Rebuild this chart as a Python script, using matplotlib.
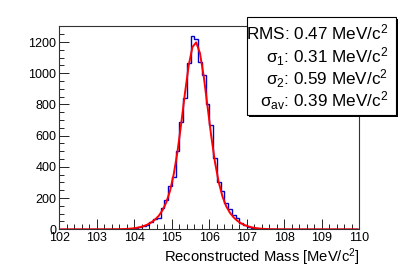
import numpy as np
import matplotlib
matplotlib.use('Agg')
import matplotlib.pyplot as plt
from matplotlib.patches import Rectangle
from matplotlib.ticker import MultipleLocator

plt.rcParams['font.family'] = ['Liberation Sans', 'DejaVu Sans']
plt.rcParams['mathtext.fontset'] = 'custom'
plt.rcParams['mathtext.rm'] = 'Liberation Sans'
plt.rcParams['mathtext.it'] = 'Liberation Sans:italic'
plt.rcParams['mathtext.default'] = 'regular'

# --- Data ---
BIN_LO, BIN_HI, N_BINS = 102.0, 110.0, 80

counts = [
    0, 0, 0, 0, 0, 0, 0, 0, 0, 0, 0, 0, 0, 1, 0,
    1, 2, 2, 4, 5, 9, 14, 22, 29, 45,
    68, 72, 135, 188, 278, 335, 500, 688, 841, 1066,
    1241, 1220, 1072, 986, 804, 670, 456, 306, 248, 167,
    130, 92, 70, 43, 28, 16, 11, 8, 5, 3,
    2, 1, 1, 0,
    0, 0, 0, 0, 0, 0, 0, 0, 0, 0, 0, 0, 0, 0, 0, 0, 0, 0, 0, 0, 0,
]

fit_vals = [
    0, 0, 0, 0, 0, 0, 0, 0, 0, 0, 0, 0.05, 0.09, 0.18, 0.35,
    0.64, 1.1, 2.0, 3.4, 5.6, 8.9, 13.7, 20.7, 30.5, 44,
    62, 86, 121, 171, 244, 351, 495, 676, 871, 1049,
    1168, 1198, 1130, 983, 793, 600, 432, 303, 211, 148,
    106, 76, 54, 38, 26, 18, 11.6, 7.4, 4.6, 2.7,
    1.6, 0.9, 0.5, 0.27,
    0.14, 0.07, 0, 0, 0, 0, 0, 0, 0, 0, 0, 0, 0, 0, 0, 0, 0, 0, 0, 0, 0,
]

legend_lines = [
    'RMS: 0.47 MeV/c$^2$',
    'σ$_1$: 0.31 MeV/c$^2$',
    'σ$_2$: 0.59 MeV/c$^2$',
    'σ$_{av}$: 0.39 MeV/c$^2$',
]

x_label = 'Reconstructed Mass [MeV/c$^2$]'

# --- Figure ---
W, H = 399, 270
fig = plt.figure(figsize=(W / 100, H / 100), dpi=100)
ax = fig.add_axes([59.3 / W, 1 - 229.3 / H, 300 / W, 203.3 / H])

edges = np.linspace(BIN_LO, BIN_HI, N_BINS + 1)
centers = 0.5 * (edges[:-1] + edges[1:])

ax.stairs(counts, edges, color='#0000cc', lw=1.0)
ax.plot(centers, fit_vals, color='#ff0000', lw=1.4)

ax.set_xlim(BIN_LO, BIN_HI)
ax.set_ylim(0, 1303)

ax.xaxis.set_major_locator(MultipleLocator(1))
ax.xaxis.set_minor_locator(MultipleLocator(0.2))
ax.yaxis.set_major_locator(MultipleLocator(200))
ax.yaxis.set_minor_locator(MultipleLocator(50))
ax.tick_params(which='both', direction='in', top=False, right=False,
               labelsize=9, pad=2, width=0.6)
ax.tick_params(which='major', length=7)
ax.tick_params(which='minor', length=3.5)
for sp in ax.spines.values():
    sp.set_linewidth(0.8)
    sp.set_color('#333333')

ax.set_xlabel(x_label, fontsize=10.6, loc='right', labelpad=2)

# --- Stats box (pixel coords from top-left) ---
bx0, bx1, by0, by1 = 247, 396, 17, 115
shadow = Rectangle(((bx0 + 1.5) / 100, (H - by1 - 1.5) / 100),
                   (bx1 - bx0) / 100, (by1 - by0) / 100,
                   transform=fig.dpi_scale_trans, facecolor='black',
                   edgecolor='none')
fig.patches.append(shadow)
box = Rectangle((bx0 / 100, (H - by1) / 100), (bx1 - bx0) / 100, (by1 - by0) / 100,
                transform=fig.dpi_scale_trans, facecolor='white',
                edgecolor='black', lw=0.8)
fig.patches.append(box)

line_y = [32, 56.5, 79, 101]
for txt, yy in zip(legend_lines, line_y):
    fig.text(388 / W, 1 - yy / H, txt, ha='right', va='center', fontsize=12.3)

fig.savefig('out.png', dpi=100)
